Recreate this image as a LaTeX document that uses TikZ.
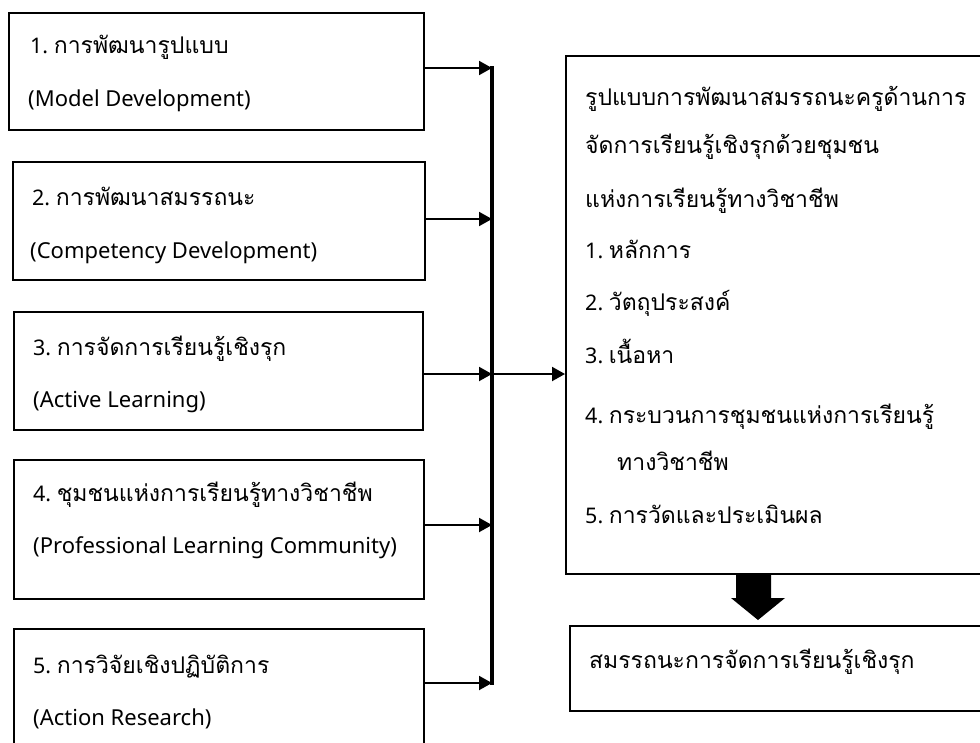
\documentclass[tikz,border=0pt]{standalone}
\usepackage{fontspec}
\setmainfont[Script=Thai]{Loma}
\newfontfamily\latinf{Noto Sans}
\newcommand{\numpre}[1]{{\latinf\fontsize{21.5}{26}\selectfont #1\ }}
\usetikzlibrary{arrows.meta}
\tikzset{
  box/.style={draw, line width=1.8pt, rectangle, inner sep=0pt, anchor=north west},
  txt/.style={anchor=base west, inner sep=0pt, font=\fontsize{23}{26}\selectfont},
  ltxt/.style={anchor=base west, inner sep=0pt, font=\latinf\fontsize{22}{26}\selectfont},
  arr/.style={line width=2pt, -{Triangle[length=13pt,width=14pt]}},
  bus/.style={line width=3.6pt}
}
\begin{document}
\begin{tikzpicture}[x=1pt,y=-1pt]
\useasboundingbox (0,0) rectangle (980,742);
\clip (0,0) rectangle (980,742);
% left boxes
\node[box, minimum width=415pt, minimum height=117pt] (b1) at (8,12) {};
\node[box, minimum width=412pt, minimum height=118pt] (b2) at (12,161) {};
\node[box, minimum width=409pt, minimum height=118pt] (b3) at (13,311) {};
\node[box, minimum width=410pt, minimum height=139pt] (b4) at (13,459) {};
\node[box, minimum width=410pt, minimum height=140pt] (b5) at (13,628) {};
% right boxes
\node[box, minimum width=440pt, minimum height=518pt] (rb) at (565,55) {};
\node[box, minimum width=436pt, minimum height=85pt] (ob) at (569,625) {};
% texts left
\node[txt] (t11) at (30,53) {\numpre{1.}การพัฒนารูปแบบ};
\node[ltxt] (t12) at (28,106) {(Model Development)};
\node[txt] (t21) at (32,205) {\numpre{2.}การพัฒนาสมรรถนะ};
\node[ltxt] (t22) at (30,258) {(Competency Development)};
\node[txt] (t31) at (33,355) {\numpre{3.}การจัดการเรียนรู้เชิงรุก};
\node[ltxt] (t32) at (33,407) {(Active Learning)};
\node[txt] (t41) at (33,501) {\numpre{4.}ชุมชนแห่งการเรียนรู้ทางวิชาชีพ};
\node[ltxt] (t42) at (33,553) {(Professional Learning Community)};
\node[txt] (t51) at (33,673) {\numpre{5.}การวิจัยเชิงปฏิบัติการ};
\node[ltxt] (t52) at (33,725) {(Action Research)};
% texts right
\node[txt] (r1) at (585,105) {รูปแบบการพัฒนาสมรรถนะครูด้านการ};
\node[txt] (r2) at (585,153) {จัดการเรียนรู้เชิงรุกด้วยชุมชน};
\node[txt] (r3) at (585,207) {แห่งการเรียนรู้ทางวิชาชีพ};
\node[txt] (r4) at (585,258) {\numpre{1.}หลักการ};
\node[txt] (r5) at (585,310) {\numpre{2.}วัตถุประสงค์};
\node[txt] (r6) at (585,363) {\numpre{3.}เนื้อหา};
\node[txt] (r7) at (585,423) {\numpre{4.}กระบวนการชุมชนแห่งการเรียนรู้};
\node[txt] (r8) at (617,470) {ทางวิชาชีพ};
\node[txt] (r9) at (585,523) {\numpre{5.}การวัดและประเมินผล};
\node[txt] (o1) at (589,668) {สมรรถนะการจัดการเรียนรู้เชิงรุก};
% bus
\coordinate (j1) at (492,68);
\coordinate (j2) at (492,219);
\coordinate (j3) at (492,374);
\coordinate (j4) at (492,525);
\coordinate (j5) at (492,683);
\draw[bus] ([yshift=1.8pt]j1) -- ([yshift=-1.8pt]j5);
\draw[arr] (b1.east |- j1) -- (j1);
\draw[arr] (b2.east |- j2) -- (j2);
\draw[arr] (b3.east |- j3) -- (j3);
\draw[arr] (b4.east |- j4) -- (j4);
\draw[arr] (b5.east |- j5) -- (j5);
\draw[arr] (j3) -- (rb.west |- j3);
% block arrow
\fill (736,574) -- (771,574) -- (771,598) -- (785,598) -- (758,620) -- (731,598) -- (736,598) -- cycle;
\end{tikzpicture}
\end{document}
